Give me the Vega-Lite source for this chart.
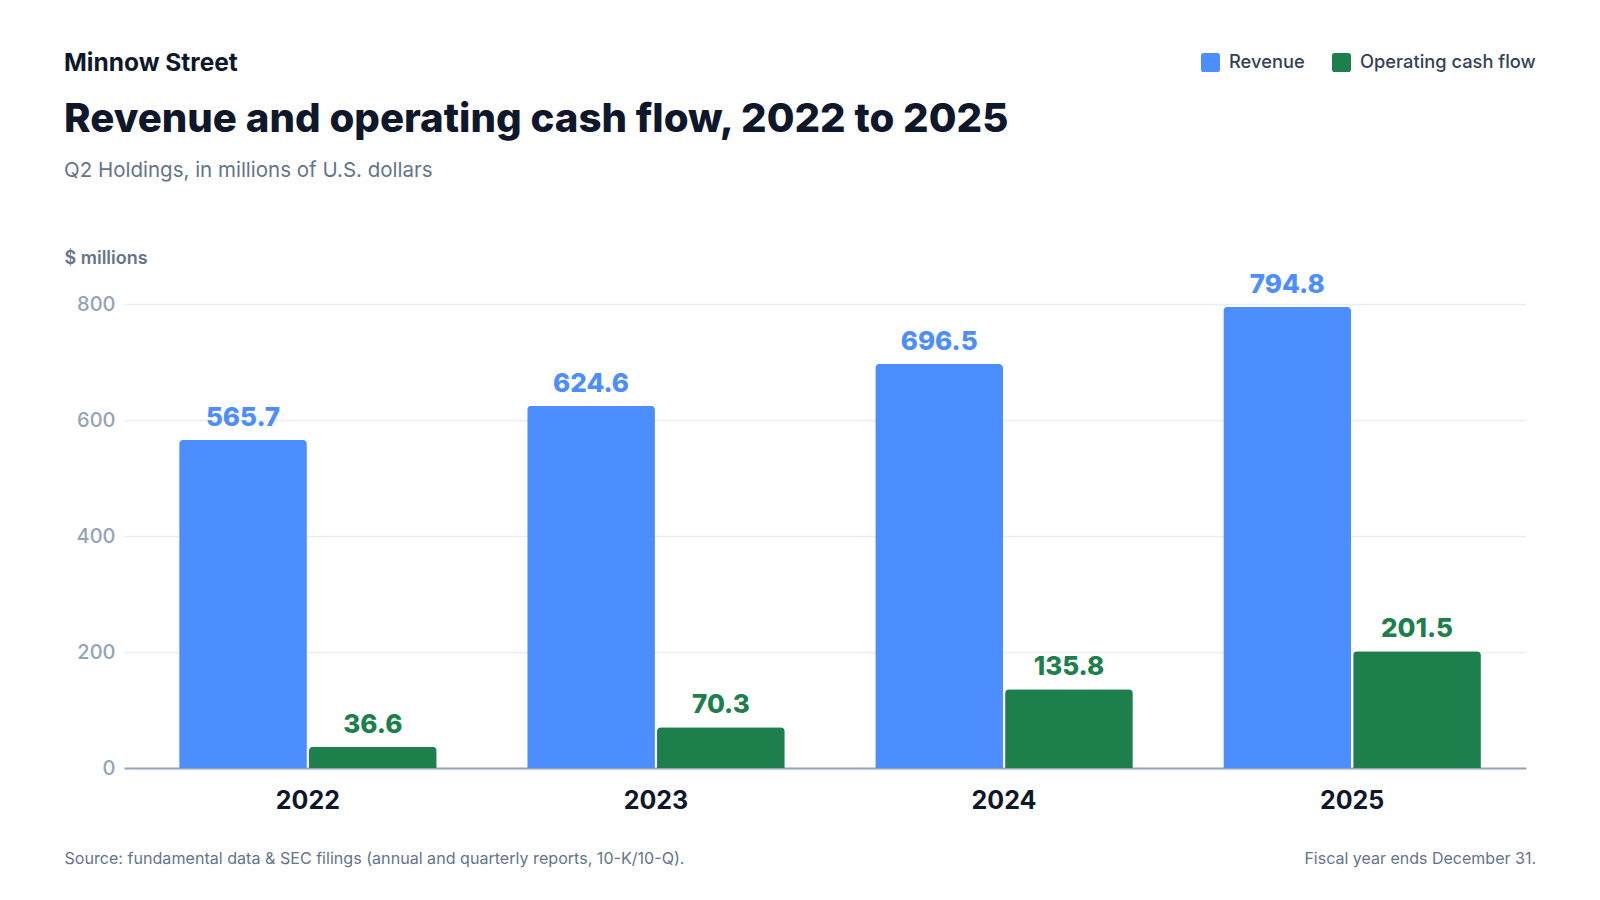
{
  "$schema": "https://vega.github.io/schema/vega-lite/v6.json",
  "background": "#ffffff",
  "padding": {"left": 64, "top": 50, "right": 0, "bottom": 0},
  "config": {
    "font": "Inter",
    "view": {"stroke": null},
    "concat": {"spacing": 0}
  },
  "title": {
    "text": "Fiscal year ends December 31.",
    "orient": "bottom",
    "anchor": "end",
    "fontSize": 16,
    "fontWeight": "normal",
    "color": "#64748b",
    "offset": -15
  },
  "resolve": {"scale": {"color": "shared"}, "legend": {"color": "shared"}},
  "vconcat": [
    {
      "title": {
        "text": "Minnow Street",
        "anchor": "start",
        "fontSize": 24.5,
        "fontWeight": "bold",
        "color": "#0f172a",
        "offset": 24
      },
      "resolve": {"scale": {"color": "shared"}, "legend": {"color": "shared"}},
      "vconcat": [
        {
          "width": 1402,
          "height": 464,
          "title": {
            "text": "Revenue and operating cash flow, 2022 to 2025",
            "subtitle": "Q2 Holdings, in millions of U.S. dollars",
            "anchor": "start",
            "fontSize": 40.2,
            "fontWeight": 800,
            "color": "#0f172a",
            "subtitleFontSize": 20.5,
            "subtitleColor": "#64748b",
            "subtitlePadding": 20,
            "offset": 68
          },
          "data": {
            "values": [
              {"Year": "2022", "Series": "Revenue", "Value": 565.7},
              {"Year": "2022", "Series": "Operating cash flow", "Value": 36.6},
              {"Year": "2023", "Series": "Revenue", "Value": 624.6},
              {"Year": "2023", "Series": "Operating cash flow", "Value": 70.3},
              {"Year": "2024", "Series": "Revenue", "Value": 696.5},
              {"Year": "2024", "Series": "Operating cash flow", "Value": 135.8},
              {"Year": "2025", "Series": "Revenue", "Value": 794.8},
              {"Year": "2025", "Series": "Operating cash flow", "Value": 201.5}
            ]
          },
          "encoding": {
            "x": {
              "field": "Year",
              "type": "nominal",
              "scale": {"paddingInner": 0.26, "paddingOuter": 0.144, "align": 0.55},
              "axis": {
                "title": "Source: fundamental data & SEC filings (annual and quarterly reports, 10-K/10-Q).",
                "titleFont": "Inter",
                "titleFontSize": 16.1,
                "titleFontWeight": "normal",
                "titleColor": "#64748b",
                "titleAlign": "left",
                "titleBaseline": "alphabetic",
                "titleX": -60,
                "titleY": 95,
                "labelAngle": 0,
                "labelFontSize": 25,
                "labelFontWeight": "bold",
                "labelColor": "#0f172a",
                "labelPadding": 20,
                "ticks": false,
                "domainColor": "#94a3b8",
                "domainWidth": 2,
                "grid": false
              }
            },
            "xOffset": {
              "field": "Series",
              "type": "nominal",
              "sort": ["Revenue", "Operating cash flow"],
              "scale": {"paddingInner": 0.016}
            },
            "y": {
              "field": "Value",
              "type": "quantitative",
              "scale": {"domain": [0, 800], "nice": false},
              "axis": {
                "title": "$ millions",
                "titleAngle": 0,
                "titleAlign": "left",
                "titleBaseline": "alphabetic",
                "titleX": -60,
                "titleY": -41,
                "titleFontSize": 18,
                "titleFontWeight": 600,
                "titleColor": "#64748b",
                "values": [0, 200, 400, 600, 800],
                "labelFontSize": 20,
                "labelFontWeight": 500,
                "labelColor": "#94a3b8",
                "labelPadding": 9,
                "ticks": false,
                "domain": false,
                "gridColor": "#e8edf3",
                "gridWidth": 1.5
              }
            },
            "color": {
              "field": "Series",
              "type": "nominal",
              "scale": {
                "domain": ["Revenue", "Operating cash flow"],
                "range": ["#4c8dff", "#1c7f4c"]
              },
              "legend": {
                "title": null,
                "orient": "none",
                "direction": "horizontal",
                "legendX": 1077,
                "legendY": -251,
                "symbolType": "M-0.7,-1L0.7,-1Q1,-1,1,-0.7L1,0.7Q1,1,0.7,1L-0.7,1Q-1,1,-1,0.7L-1,-0.7Q-1,-1,-0.7,-1Z",
                "symbolSize": 361,
                "symbolStrokeWidth": 0,
                "symbolOpacity": 1,
                "labelFontSize": 18.3,
                "labelFontWeight": 500,
                "labelColor": "#334155",
                "labelOffset": 9,
                "labelLimit": 300,
                "columnPadding": 27
              }
            }
          },
          "layer": [
            {
              "mark": {
                "type": "bar",
                "cornerRadiusTopLeft": 4,
                "cornerRadiusTopRight": 4
              }
            },
            {
              "mark": {
                "type": "text",
                "baseline": "alphabetic",
                "dy": -14,
                "fontSize": 26,
                "fontWeight": 800
              },
              "encoding": {
                "text": {"field": "Value", "type": "quantitative", "format": ".1f"}
              }
            }
          ]
        }
      ]
    }
  ]
}
